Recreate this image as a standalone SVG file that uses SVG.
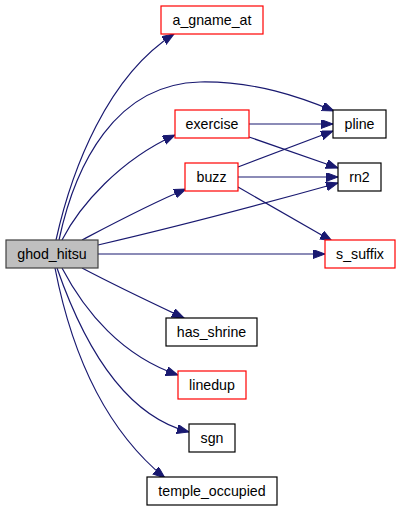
<svg xmlns="http://www.w3.org/2000/svg" width="400" height="512" viewBox="0 0 400 512">
<style>
.n rect{fill:#ffffff;stroke:#000000;stroke-width:1.2}
.n.r rect{stroke:#ff0000}
.n.g rect{fill:#bfbfbf;stroke:#404040}
.n text{font-family:"Liberation Sans",Arial,sans-serif;font-size:14.2px;fill:#000000;text-anchor:middle}
.e path{fill:none;stroke:#191970;stroke-width:1.2;marker-end:url(#ah)}
</style>
<defs>
<marker id="ah" markerUnits="userSpaceOnUse" markerWidth="13" markerHeight="10" refX="12" refY="4.5" orient="auto">
<path d="M0,0 L12,4.5 L0,9 z" fill="#191970" stroke="#191970" stroke-width="1"/>
</marker>
</defs>
<rect width="400" height="512" fill="#ffffff"/>
<g id="edges" class="e">
<path d="M56,240 C72,168 108,76 174,34"/>
<path d="M59,240 C75,165 115,84 200,82 C255,81 300,97 334,111"/>
<path d="M62,240 C80,205 120,160 175,135"/>
<path d="M82,240 C120,220 150,204 186,189"/>
<path d="M98,245 C180,226 270,202 338,183"/>
<path d="M98,254 L325,254"/>
<path d="M82,268 C120,288 150,302 184,318"/>
<path d="M62,268 C85,312 122,356 178,375"/>
<path d="M57,268 C82,340 122,415 189,432"/>
<path d="M55,268 C70,345 100,425 165,478"/>
<path d="M249,124 L333,124"/>
<path d="M249,137 L338,168"/>
<path d="M238,167 L333,131"/>
<path d="M238,177 L338,177"/>
<path d="M238,187 L332,241"/>
</g>
<g id="ghod_hitsu" class="n g"><rect x="6" y="240" width="92" height="28"/><text x="52" y="258.5">ghod_hitsu</text></g>
<g id="a_gname_at" class="n r"><rect x="161" y="6" width="102" height="28"/><text x="212" y="24.5">a_gname_at</text></g>
<g id="exercise" class="n r"><rect x="175" y="110" width="74" height="28"/><text x="212" y="128.5">exercise</text></g>
<g id="pline" class="n"><rect x="333" y="110" width="53" height="28"/><text x="359.5" y="128.5">pline</text></g>
<g id="buzz" class="n r"><rect x="185" y="163" width="53" height="28"/><text x="211.5" y="181.5">buzz</text></g>
<g id="rn2" class="n"><rect x="338" y="163" width="43" height="28"/><text x="359.5" y="181.5">rn2</text></g>
<g id="s_suffix" class="n r"><rect x="325" y="240" width="70" height="28"/><text x="360" y="258.5">s_suffix</text></g>
<g id="has_shrine" class="n"><rect x="166" y="318" width="91" height="28"/><text x="211.5" y="336.5">has_shrine</text></g>
<g id="linedup" class="n r"><rect x="178" y="371" width="68" height="28"/><text x="212" y="389.5">linedup</text></g>
<g id="sgn" class="n"><rect x="189" y="424" width="46" height="28"/><text x="212" y="442.5">sgn</text></g>
<g id="temple_occupied" class="n"><rect x="147" y="477" width="130" height="28"/><text x="212" y="495.5">temple_occupied</text></g>
</svg>
